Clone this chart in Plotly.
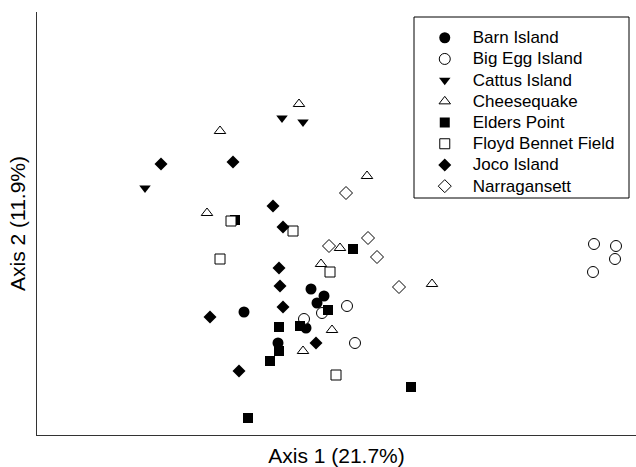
import plotly.graph_objects as go

# Ordination scores (arbitrary units, axis 1 / axis 2)
barn_x = [274, 287, 280, 207, 269, 241]
barn_y = [146, 139, 132, 123, 107, 92]

bigegg_x = [267, 285, 310, 318, 557, 579, 578, 556]
bigegg_y = [116, 122, 129, 92, 191, 189, 176, 163]

cattus_x = [245, 266, 108]
cattus_y = [317, 313, 247]

cheese_x = [262, 183, 170, 330, 303, 284, 295, 266, 395]
cheese_y = [331, 304, 222, 259, 187, 171, 105, 84, 151]

elders_x = [198, 316, 291, 242, 263, 242, 233, 211, 374]
elders_y = [215, 186, 125, 108, 109, 84, 74, 17, 48]

floyd_x = [194, 256, 183, 293, 299]
floyd_y = [214, 204, 176, 163, 60]

joco_x = [124, 196, 236, 246, 242, 243, 246, 173, 279, 202]
joco_y = [271, 273, 229, 208, 167, 149, 128, 118, 92, 64]

narr_x = [309, 331, 292, 340, 362]
narr_y = [242, 197, 189, 178, 148]

series = [
    ("Barn Island", barn_x, barn_y, "circle", 11, "black"),
    ("Big Egg Island", bigegg_x, bigegg_y, "circle", 11, "white"),
    ("Cattus Island", cattus_x, cattus_y, "triangle-down", 10, "black"),
    ("Cheesequake", cheese_x, cheese_y, "triangle-up", 10, "white"),
    ("Elders Point", elders_x, elders_y, "square", 10, "black"),
    ("Floyd Bennet Field", floyd_x, floyd_y, "square", 10, "white"),
    ("Joco Island", joco_x, joco_y, "diamond", 10, "black"),
    ("Narragansett", narr_x, narr_y, "diamond", 10, "white"),
]

fig = go.Figure()
for name, xs, ys, sym, size, fill in series:
    if fill == "white":
        marker = dict(symbol=sym, size=size, color="white",
                      line=dict(color="black", width=1))
    else:
        marker = dict(symbol=sym, size=size, color="black",
                      line=dict(color="black", width=0))
    fig.add_trace(go.Scatter(
        x=xs, y=ys, mode="markers",
        name='<span style="font-size:17px">' + name + "</span>",
        marker=marker, cliponaxis=False))

fig.update_layout(
    width=636, height=467,
    margin=dict(l=37, r=0, t=12, b=32, autoexpand=False),
    paper_bgcolor="white", plot_bgcolor="white",
    font=dict(family="Liberation Sans, Arial, sans-serif", color="black"),
    showlegend=True,
    legend=dict(x=0.634, y=0.976, xanchor="left", yanchor="top",
                bgcolor="rgba(0,0,0,0)", borderwidth=0,
                font=dict(size=14, color="black"),
                itemwidth=46, tracegroupgap=0),
    xaxis=dict(range=[0, 599], showgrid=False, zeroline=False,
               showticklabels=False, ticks="", showline=True,
               linecolor="#333", linewidth=1, mirror=False, automargin=False,
               title=dict(text="Axis 1 (21.7%)", font=dict(size=21), standoff=14)),
    yaxis=dict(range=[0, 423], showgrid=False, zeroline=False,
               showticklabels=False, ticks="", showline=True,
               linecolor="#333", linewidth=1, mirror=False, automargin=False,
               title=dict(text="Axis 2 (11.9%)", font=dict(size=21), standoff=4)),
    shapes=[dict(type="rect", xref="paper", yref="paper",
                 x0=(414 - 37) / 599, x1=(629 - 37) / 599,
                 y0=(435 - 198) / 423, y1=(435 - 17) / 423,
                 line=dict(color="black", width=1), fillcolor="rgba(0,0,0,0)")],
)

fig.write_html("out.html",
               config={"displayModeBar": False},
               post_script="document.body.style.margin='0';document.body.style.padding='0';")
